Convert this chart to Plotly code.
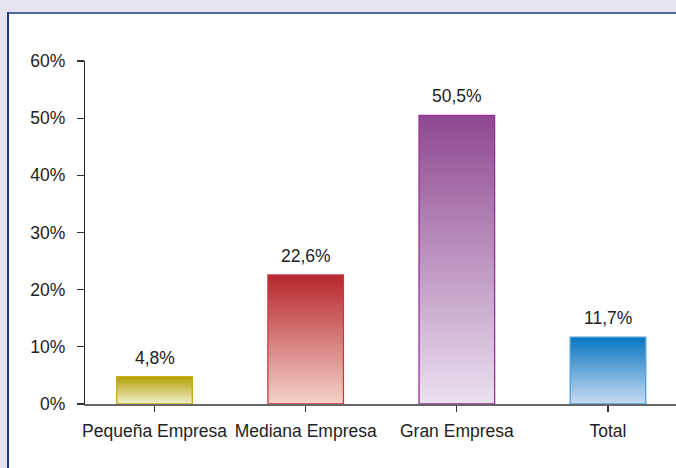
import base64
import plotly.graph_objects as go

categories = ["Pequeña Empresa", "Mediana Empresa", "Gran Empresa", "Total"]
values = [4.8, 22.6, 50.5, 11.7]
y_ticks = [0, 10, 20, 30, 40, 50, 60]

top_colors = ["#b3a000", "#b6262d", "#8e4890", "#0776c0"]
bottom_colors = ["#f3eed2", "#f3d2c8", "#ebe1f0", "#c8dbf2"]
edge_colors = ["#c2ad1c", "#c53a40", "#982e98", "#4a9fdc"]

W, H = 676, 468
L, T, B, R = 85, 61, 64, 0
pw, ph = W - L - R, H - T - B


def px(x):
    return (x - L) / pw


def py(y):
    return (H - B - y) / ph


def grad_src(top, bot):
    svg = (
        '<svg xmlns="http://www.w3.org/2000/svg" width="10" height="100" '
        'viewBox="0 0 10 100" preserveAspectRatio="none">'
        '<defs><linearGradient id="g" x1="0" y1="0" x2="0" y2="1">'
        f'<stop offset="0" stop-color="{top}"/>'
        f'<stop offset="1" stop-color="{bot}"/>'
        '</linearGradient></defs>'
        '<rect x="0" y="0" width="10" height="100" fill="url(#g)"/></svg>'
    )
    return "data:image/svg+xml;base64," + base64.b64encode(svg.encode()).decode()


font = dict(family="Liberation Sans, Arial, sans-serif", size=17.5, color="#222222")

fig = go.Figure()
fig.add_trace(go.Bar(
    x=categories, y=values, width=0.5,
    marker=dict(color="rgba(0,0,0,0)", line=dict(color=edge_colors, width=1.3)),
    hoverinfo="skip",
))

images = []
annotations = []
for i, v in enumerate(values):
    images.append(dict(
        source=grad_src(top_colors[i], bottom_colors[i]),
        xref="x", yref="y", x=i - 0.25, y=v, sizex=0.5, sizey=v,
        xanchor="left", yanchor="top", sizing="stretch", layer="below",
    ))
    annotations.append(dict(
        x=categories[i], y=v, xref="x", yref="y",
        text=f"{v:.1f}".replace(".", ",") + "%",
        showarrow=False, yanchor="bottom", yshift=7, font=font,
    ))

shapes = [
    dict(type="rect", xref="paper", yref="paper", x0=px(0), x1=px(W + 5), y0=py(0), y1=py(12),
         fillcolor="#e4e3ee", line=dict(width=0), layer="below"),
    dict(type="rect", xref="paper", yref="paper", x0=px(0), x1=px(7), y0=py(H + 5), y1=py(0),
         fillcolor="#e4e3ee", line=dict(width=0), layer="below"),
    dict(type="line", xref="paper", yref="paper", x0=px(7), x1=px(W + 5), y0=py(13), y1=py(13),
         line=dict(color="#4d68a0", width=2), layer="below"),
    dict(type="line", xref="paper", yref="paper", x0=px(8), x1=px(8), y0=py(12), y1=py(H + 5),
         line=dict(color="#1c3a8c", width=2), layer="below"),
]

fig.update_layout(
    width=W, height=H,
    margin=dict(l=L, r=R, t=T, b=B),
    paper_bgcolor="white", plot_bgcolor="white",
    showlegend=False,
    font=font,
    images=images,
    annotations=annotations,
    shapes=shapes,
    bargap=0.5,
)
fig.update_xaxes(
    type="category", range=[-0.46, 3.45],
    showline=True, linecolor="#666666", linewidth=1.5,
    ticks="outside", ticklen=6, tickcolor="#333333", tickwidth=1.2,
    showgrid=False, zeroline=False, tickfont=font, ticklabelstandoff=4,
)
fig.update_yaxes(
    range=[0, 60], tickvals=y_ticks, ticktext=[f"{t}%" for t in y_ticks],
    showline=True, linecolor="#222222", linewidth=1.2,
    ticks="outside", ticklen=7, tickcolor="#333333", tickwidth=1.2,
    showgrid=False, zeroline=False, tickfont=font, ticklabelstandoff=8,
)

fig.write_html(
    "out.html",
    config={"displayModeBar": False, "staticPlot": True},
    post_script="document.body.style.margin='0';document.body.style.overflow='hidden';",
)
